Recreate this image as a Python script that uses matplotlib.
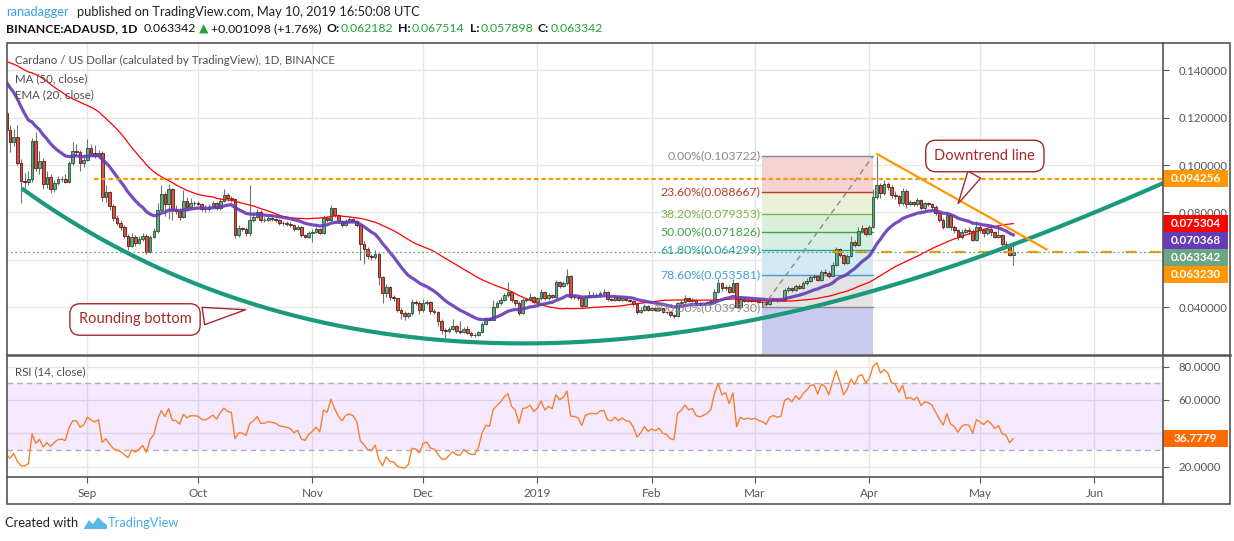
import numpy as np
import pandas as pd
import matplotlib
matplotlib.use('Agg')
import matplotlib.pyplot as plt
import matplotlib.dates as mdates
import matplotlib.transforms as mtransforms
from matplotlib.patches import Rectangle, Polygon
from matplotlib.lines import Line2D

plt.rcParams['font.family'] = ['Lato', 'DejaVu Sans']

# ---------------- data (prices x 1e4) ----------------
START = '2018-08-10'
# closes Jun 10 - Aug 9 2018 (indicator warm-up, off-chart)
pre_close_e4 = [1850, 1800, 1750, 1650, 1700, 1650, 1630, 1600, 1650, 1620, 1580,
                1550, 1450, 1400, 1350, 1400, 1380, 1330, 1280, 1350, 1400,
                1430, 1500, 1520, 1500, 1480, 1450, 1480, 1500, 1460, 1380,
                1400, 1380, 1400, 1420, 1450, 1550, 1580, 1600, 1570, 1520,
                1550, 1600, 1650, 1700, 1680, 1600, 1620, 1580, 1550, 1480, 1420,
                1380, 1320, 1300, 1280, 1260, 1280, 1200, 1180, 1218]
first_open_e4 = 1218
close_e4 = [1148,
    1098, 1120, 1010, 934, 928, 940, 1103, 989, 1017, 919,
    948, 897, 922, 941, 943, 930, 1007, 1057, 1055, 1007,
    1020, 1071, 1050, 1038, 1051, 863, 884, 827, 775, 757,
    737, 701, 660, 697, 672, 686, 701, 634, 697, 721,
    810, 877, 835, 897, 810, 806, 779, 849, 823, 838,
    838, 835, 815, 813, 824, 838, 817, 849, 873, 859,
    855, 705, 733, 730, 714, 768, 782, 803, 768, 768,
    775, 771, 768, 757, 754, 751, 746, 731, 737, 703,
    698, 712, 719, 729, 714, 775, 768, 817, 789, 765,
    747, 765, 771, 765, 747, 666, 644, 616, 610, 624,
    526, 458, 486, 441, 437, 388, 374, 364, 374, 423,
    419, 388, 419, 423, 385, 378, 343, 303, 300, 310,
    320, 300, 296, 310, 293, 282, 281, 296, 331, 352,
    348, 401, 416, 430, 451, 465, 430, 419, 374, 430,
    433, 444, 423, 437, 465, 437, 451, 444, 505, 490,
    500, 532, 444, 442, 437, 405, 444, 451, 453, 450,
    461, 463, 434, 430, 441, 430, 438, 430, 428, 413,
    381, 390, 404, 390, 395, 390, 395, 381, 378, 367,
    364, 416, 423, 437, 427, 430, 416, 413, 416, 420,
    427, 465, 500, 479, 486, 465, 500, 402, 434, 427,
    430, 427, 430, 423, 420, 413, 430, 434, 430, 432,
    472, 479, 472, 490, 483, 500, 512, 528, 530, 515,
    550, 545, 531, 580, 644, 620, 587, 615, 676, 662,
    720, 733, 710, 740, 866, 916, 880, 920, 909, 873,
    869, 838, 892, 835, 845, 835, 852, 817, 838, 835,
    824, 796, 768, 740, 789, 740, 726, 695, 719, 726,
    723, 683, 737, 726, 714, 729, 716, 695, 705, 667,
    662, 621.82, 633.42]
high_e4 = [1235,
    1169, 1150, 1169, 1025, 965, 975, 1112, 1140, 1060, 1030,
    975, 960, 935, 955, 952, 960, 1015, 1098, 1090, 1065,
    1045, 1108, 1090, 1084, 1065, 1058, 915, 890, 835, 790,
    770, 745, 710, 712, 705, 700, 712, 710, 705, 735,
    840, 917, 885, 919, 905, 830, 820, 894, 865, 860,
    850, 848, 840, 830, 835, 850, 845, 860, 897, 880,
    870, 862, 745, 740, 738, 916, 800, 815, 810, 780,
    785, 782, 775, 772, 765, 762, 758, 750, 745, 742,
    710, 720, 728, 740, 735, 790, 785, 831, 820, 795,
    770, 772, 780, 778, 770, 752, 680, 655, 625, 640,
    630, 530, 498, 490, 450, 440, 395, 385, 380, 435,
    430, 425, 435, 432, 428, 392, 382, 350, 312, 318,
    350, 325, 340, 318, 320, 300, 290, 300, 338, 360,
    358, 430, 425, 445, 458, 505, 470, 432, 425, 440,
    440, 460, 448, 445, 475, 468, 458, 455, 515, 510,
    510, 563, 535, 452, 448, 440, 450, 468, 465, 460,
    470, 478, 468, 440, 448, 445, 445, 442, 435, 430,
    418, 400, 412, 408, 400, 400, 402, 398, 385, 382,
    372, 422, 430, 450, 442, 440, 435, 422, 422, 425,
    432, 475, 520, 505, 495, 492, 520, 505, 440, 442,
    438, 435, 436, 434, 428, 425, 436, 442, 440, 438,
    480, 488, 485, 498, 496, 510, 522, 535, 540, 536,
    558, 560, 552, 590, 652, 650, 625, 625, 700, 685,
    740, 745, 740, 748, 900, 1037, 925, 935, 930, 915,
    892, 875, 905, 898, 852, 850, 862, 858, 845, 845,
    840, 830, 800, 775, 800, 795, 748, 730, 728, 735,
    738, 728, 762, 745, 735, 735, 740, 720, 748, 710,
    680, 668, 675.14]
low_e4 = [1130,
    1056, 1080, 999, 838, 905, 915, 930, 975, 960, 900,
    905, 880, 885, 915, 930, 925, 925, 1000, 1040, 975,
    990, 1015, 1040, 1030, 1030, 850, 845, 810, 765, 745,
    725, 690, 640, 655, 660, 665, 680, 623, 628, 690,
    715, 800, 785, 771, 770, 795, 770, 775, 805, 815,
    825, 826, 805, 800, 805, 818, 810, 812, 845, 850,
    845, 690, 695, 722, 700, 700, 760, 775, 760, 760,
    762, 765, 758, 748, 745, 742, 738, 722, 725, 695,
    690, 692, 677, 712, 708, 710, 760, 762, 780, 758,
    740, 742, 760, 758, 740, 600, 582, 605, 600, 605,
    494, 416, 445, 430, 425, 380, 352, 345, 355, 368,
    410, 370, 380, 410, 372, 370, 320, 289, 268, 292,
    305, 290, 288, 290, 285, 275, 275, 277, 292, 325,
    340, 345, 395, 410, 425, 445, 420, 405, 365, 370,
    422, 428, 415, 418, 432, 430, 432, 438, 440, 480,
    485, 495, 435, 435, 430, 398, 400, 440, 445, 443,
    445, 455, 428, 425, 425, 425, 425, 425, 420, 405,
    370, 375, 385, 385, 385, 384, 385, 375, 372, 360,
    356, 360, 410, 418, 420, 422, 410, 405, 408, 410,
    415, 425, 460, 470, 472, 458, 460, 395, 398, 420,
    422, 420, 422, 418, 399, 405, 408, 425, 424, 425,
    428, 465, 466, 468, 476, 478, 495, 505, 520, 510,
    512, 538, 525, 528, 575, 612, 580, 582, 610, 655,
    658, 712, 700, 705, 735, 855, 860, 872, 895, 860,
    855, 825, 830, 820, 830, 828, 828, 810, 812, 825,
    815, 790, 760, 730, 735, 725, 715, 685, 688, 712,
    705, 678, 680, 715, 695, 705, 700, 690, 690, 660,
    652, 615, 578.98]

month_ticks = ['2018-09-01', '2018-10-01', '2018-11-01', '2018-12-01', '2019-01-01',
               '2019-02-01', '2019-03-01', '2019-04-01', '2019-05-01', '2019-06-01']
month_labels = ['Sep', 'Oct', 'Nov', 'Dec', '2019', 'Feb', 'Mar', 'Apr', 'May', 'Jun']
price_ticks = [0.04, 0.06, 0.08, 0.10, 0.12, 0.14]
price_hidden = [0.06]          # covered by the price tags in the reference
rsi_ticks = [20, 40, 60, 80]
rsi_hidden = [40]              # covered by the RSI tag in the reference

fib_low, fib_high = 0.039930, 0.103722
fib_start, fib_end = '2019-03-03', '2019-04-02'
fib_levels = [0.0, 0.236, 0.382, 0.5, 0.618, 0.786, 1.0]
fib_line_colors = ['#8a8a8a', '#c0392b', '#7cb342', '#43a047', '#26a69a', '#3d9be0', '#8a8a8a']
fib_fill_colors = ['#f4d3d2', '#e9f1d6', '#d8f0d9', '#d5efe2', '#d3eaf4', '#e3e3e3']

# drawings (day offsets from START, price)
curve_day = [4.17, 16.37, 34.35, 52.5, 70.6, 88.6, 112.1, 142.8, 179.1, 197.0,
             215.1, 234.6, 252.6, 270.7, 285.6, 313.6]
curve_price = [0.0897, 0.0782, 0.0613, 0.0494, 0.0397, 0.0318, 0.0273, 0.0254, 0.0283, 0.0325,
               0.0395, 0.0465, 0.0550, 0.0655, 0.0740, 0.0923]
trend_day = [236.1, 282.0]
trend_price = [0.1046, 0.0644]
resist_level, resist_start_day = 0.094256, 23.85
support_level, support_start_day = 0.063230, 223.8
last_price = 0.063342
tag_values = [0.094256, 0.075304, 0.070368, 0.063342, 0.063230]
tag_colors = ['#ff9800', '#ff0000', '#673ab7', '#6ba583', '#ff9800']
rsi_last = 36.7779

# ---------------- derived series ----------------
n = len(close_e4)
assert len(high_e4) == n and len(low_e4) == n, (n, len(high_e4), len(low_e4))
close = np.array(close_e4, float) / 1e4
opn = np.r_[first_open_e4, close_e4[:-1]] / 1e4
high = np.maximum(np.array(high_e4, float) / 1e4, np.maximum(opn, close))
low = np.minimum(np.array(low_e4, float) / 1e4, np.minimum(opn, close))

full = pd.Series(np.r_[pre_close_e4, close_e4] / 1e4)
ma50 = full.rolling(50).mean().values[-n:]
ema20 = full.ewm(span=20, adjust=False).mean().values[-n:]
delta = full.diff()
up = delta.clip(lower=0).ewm(alpha=1 / 14, adjust=False).mean()
dn = (-delta.clip(upper=0)).ewm(alpha=1 / 14, adjust=False).mean()
rsi = (100 - 100 / (1 + up / dn)).values[-n:]

d0 = mdates.date2num(pd.Timestamp(START))
x = d0 + np.arange(n)
mt = [mdates.date2num(pd.Timestamp(m)) for m in month_ticks]

# ---------------- figure ----------------
W, H = 1234, 541
fig = plt.figure(figsize=(W / 100, H / 100), dpi=100)
fig.patch.set_facecolor('white')


def fx(px):
    return px / W


def fy(py):
    return 1 - py / H


ax = fig.add_axes([fx(7), fy(354), fx(1163) - fx(7), fy(43) - fy(354)])
axr = fig.add_axes([fx(7), fy(477), fx(1163) - fx(7), fy(355) - fy(477)], sharex=ax)
for a in (ax, axr):
    for s in a.spines.values():
        s.set_visible(False)
    a.set_facecolor('white')
    a.set_axisbelow(True)
axr.spines['bottom'].set_visible(True)
axr.spines['bottom'].set_color('#555555')
axr.spines['bottom'].set_linewidth(1.2)

ax.set_xlim(d0 + 0.19, d0 + 313.6)
ax.set_ylim(0.02025, 0.15148)
axr.set_ylim(13.8, 86.97)

grid_c = '#e6e6e6'
ax.set_xticks(mt)
axr.set_xticklabels(month_labels)
ax.tick_params(axis='x', length=0, labelbottom=False)
axr.tick_params(axis='x', direction='out', length=4, color='#555555', labelcolor='#555555',
                labelsize=8.5, pad=4)
for a in (ax, axr):
    a.grid(True, color=grid_c, lw=1)
    a.yaxis.tick_right()
    a.tick_params(axis='y', direction='out', length=4, color='#555555', labelcolor='#555555',
                  labelsize=8.2, pad=7)
ax.set_yticks(price_ticks)
ax.set_yticklabels(['' if v in price_hidden else '%.6f' % v for v in price_ticks])
axr.set_yticks(rsi_ticks)
axr.set_yticklabels(['' if v in rsi_hidden else '%.4f' % v for v in rsi_ticks])

# ---------------- fib retracement ----------------
xfs = mdates.date2num(pd.Timestamp(fib_start))
xfe = mdates.date2num(pd.Timestamp(fib_end))
rng = fib_high - fib_low
lv = [fib_high - l * rng for l in fib_levels]
for k in range(6):
    ax.add_patch(Rectangle((xfs, lv[k + 1]), xfe - xfs, lv[k] - lv[k + 1],
                           fc=fib_fill_colors[k], ec='none', zorder=1))
ax.add_patch(Rectangle((xfs, 0.02025), xfe - xfs, fib_low - 0.02025,
                       fc='#c8cbef', ec='none', zorder=1))
for k, l in enumerate(fib_levels):
    ax.plot([xfs, xfe], [lv[k], lv[k]], color=fib_line_colors[k], lw=1, zorder=2)
    ax.annotate('%.2f%%(%.6f)' % (l * 100, lv[k]), xy=(xfs, lv[k]), xytext=(-2, 0),
                textcoords='offset pixels', ha='right', va='center', fontsize=8.8,
                color=fib_line_colors[k], zorder=8)
ax.plot([xfs, xfe], [fib_low, fib_high], color='#8a8a8a', lw=1, dashes=(4, 3), zorder=6)

# ---------------- candles ----------------
upc = close >= opn
ax.vlines(x, low, high, color='#737375', lw=0.8, zorder=3)
body_lo = np.minimum(opn, close)
body_h = np.abs(close - opn)
ax.bar(x[upc], body_h[upc], bottom=body_lo[upc], width=0.72, color='#6ba583',
       edgecolor='#225437', linewidth=0.6, zorder=4)
ax.bar(x[~upc], body_h[~upc], bottom=body_lo[~upc], width=0.72, color='#d75442',
       edgecolor='#5b1a13', linewidth=0.6, zorder=4)

# ---------------- indicators ----------------
ax.plot(x, ma50, color='#ff0000', lw=0.9, zorder=5)
ax.plot(x, ema20, color='#673ab7', lw=2.3, alpha=0.9, zorder=5)

# ---------------- drawings ----------------
xmax = d0 + 313.6
ax.plot([d0 + resist_start_day, xmax], [resist_level] * 2, color='#ff9800', lw=1.6,
        dashes=(2, 1.3), zorder=6)
ax.plot([d0 + support_start_day, xmax], [support_level] * 2, color='#ff9800', lw=1.6,
        dashes=(5, 6), zorder=6)
ax.plot([d0, xmax], [last_price] * 2, color='#6ba583', lw=0.9, dashes=(1.5, 2), zorder=6)

cd = np.array(curve_day)
coef = np.polyfit(cd, np.array(curve_price), 5)
dd = np.linspace(cd[0], cd[-1], 400)
ax.plot(d0 + dd, np.polyval(coef, dd), color='#1b9a7b', lw=3.0, zorder=7,
        solid_capstyle='butt')
ax.plot(d0 + np.array(trend_day), trend_price, color='#ff9800', lw=1.6, zorder=7)

box_c = '#a3282b'
ax.annotate('Rounding bottom', xy=(d0 + 65.6, 0.0391), xytext=(d0 + 34.9, 0.03481),
            textcoords='data', ha='center', va='center', fontsize=10.5, color='#a52a2a',
            zorder=9,
            bbox=dict(boxstyle='round,pad=0.6,rounding_size=0.7', fc='white', ec=box_c, lw=1),
            arrowprops=dict(arrowstyle='wedge,tail_width=1.2,shrink_factor=0.5', fc='white',
                            ec=box_c, lw=1, relpos=(1.0, 0.62)))
ax.annotate('Downtrend line', xy=(d0 + 257.7, 0.0827), xytext=(d0 + 265.3, 0.1038),
            textcoords='data', ha='center', va='center', fontsize=10.5, color='#a52a2a',
            zorder=9,
            bbox=dict(boxstyle='round,pad=0.6,rounding_size=0.7', fc='white', ec=box_c, lw=1),
            arrowprops=dict(arrowstyle='wedge,tail_width=1.0,shrink_factor=0.5', fc='white',
                            ec=box_c, lw=1, relpos=(0.46, 0.0)))

# ---------------- RSI ----------------
axr.axhspan(30, 70, color='#9915ff', alpha=0.09, lw=0, zorder=1)
for lvl in (30, 70):
    axr.axhline(lvl, color='#b0a9b8', lw=1, dashes=(4, 3), zorder=2)
axr.plot(x, rsi, color='#f7802b', lw=1, zorder=5)

# ---------------- price tags ----------------
tw = 65 / 1156
bt = mtransforms.blended_transform_factory(ax.transAxes, ax.transData)
h = 17 / 2370
prev = None
for v, c in zip(tag_values, tag_colors):
    pos = v if prev is None else min(v, prev - h)
    prev = pos
    ax.add_patch(Rectangle((1.0, pos - h / 2), tw, h, transform=bt, fc=c, ec='none',
                           clip_on=False, zorder=20))
    ax.text(1.0 + tw / 2, pos, '%.6f' % v, transform=bt, ha='center', va='center',
            color='white', fontsize=8.5, fontweight='bold', clip_on=False, zorder=21)
btr = mtransforms.blended_transform_factory(axr.transAxes, axr.transData)
hr = 17 / 1.6675
axr.add_patch(Rectangle((1.0, rsi_last - hr / 2), tw, hr, transform=btr, fc='#ff6a00',
                        ec='none', clip_on=False, zorder=20))
axr.text(1.0 + tw / 2, rsi_last, '%.4f' % rsi_last, transform=btr, ha='center', va='center',
         color='white', fontsize=8.5, fontweight='bold', clip_on=False, zorder=21)

# ---------------- frame ----------------
fc_ = '#555555'
fig.add_artist(Rectangle((fx(7), fy(504)), fx(1230) - fx(7), fy(43) - fy(504),
                         transform=fig.transFigure, fill=False, ec=fc_, lw=1.2))
fig.add_artist(Line2D([fx(7), fx(1230)], [fy(354.5)] * 2, color=fc_, lw=1.8))
fig.add_artist(Line2D([fx(1163)] * 2, [fy(43), fy(504)], color=fc_, lw=1.2))

# ---------------- texts ----------------
lab_c = '#4f4f4f'
fig.text(fx(15), fy(60), 'Cardano / US Dollar (calculated by TradingView), 1D, BINANCE',
         fontsize=8.3, color=lab_c, va='center')
fig.text(fx(15), fy(79), 'MA (50, close)', fontsize=8.3, color=lab_c, va='center')
fig.text(fx(15), fy(95), 'EMA (20, close)', fontsize=8.3, color=lab_c, va='center')
fig.text(fx(15), fy(372), 'RSI (14, close)', fontsize=8.3, color=lab_c, va='center')

green = '#21a33b'
fig.text(fx(6), fy(12), 'ranadagger', fontsize=9.3, color='#3b9fe0', va='center')
fig.text(fx(77), fy(12), 'published on TradingView.com, May 10, 2019 16:50:08 UTC',
         fontsize=9.3, color='#222222', va='center')

renderer = fig.canvas.get_renderer()
parts = [('BINANCE:ADAUSD, 1D', '#111111', 'bold', 6),
         ('0.063342', '#111111', 'normal', 3),
         ('\u25b2', green, 'normal', 3),
         ('+0.001098 (+1.76%)', '#111111', 'normal', 5),
         ('O:', '#111111', 'bold', 1), ('0.062182', green, 'normal', 5),
         ('H:', '#111111', 'bold', 1), ('0.067514', green, 'normal', 5),
         ('L:', '#111111', 'bold', 1), ('0.057898', green, 'normal', 5),
         ('C:', '#111111', 'bold', 1), ('0.063342', green, 'normal', 0)]
xcur = 6
for s, c, wgt, gap in parts:
    t = fig.text(fx(xcur), fy(29), s, fontsize=8.8, color=c, va='center', fontweight=wgt)
    bb = t.get_window_extent(renderer=renderer)
    xcur = bb.x1 + gap

fig.text(fx(5), fy(523), 'Created with', fontsize=9.3, color='#222222', va='center')
logo = [(84, 528), (89, 520), (93, 524), (98, 517), (103, 522), (107, 525), (107, 529), (84, 529)]
fig.add_artist(Polygon([(fx(a), fy(b)) for a, b in logo], closed=True,
                       transform=fig.transFigure, fc='#5bb8ea', ec='none'))
fig.text(fx(108), fy(523), 'TradingView', fontsize=9.3, color='#47ade6', va='center')

fig.savefig('out.png', dpi=100)
